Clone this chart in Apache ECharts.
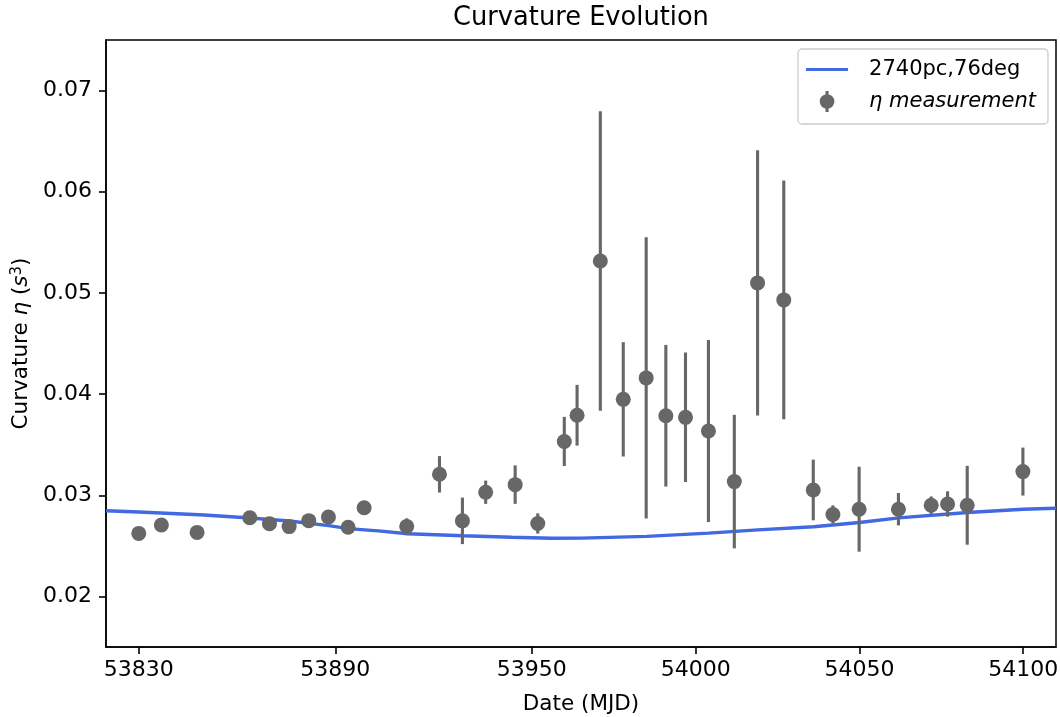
<!DOCTYPE html>
<html>
<head>
<meta charset="utf-8">
<script src="https://cdn.jsdelivr.net/npm/echarts@6/dist/echarts.min.js"></script>
<style>html,body{margin:0;padding:0;background:#fff}#c{width:1060px;height:717px}</style>
</head>
<body>
<div id="c"></div>
<script>
// Measurement epochs (MJD), curvature values and 1-sigma errors
const mjd = [53830, 53836.9, 53847.8, 53863.9, 53869.9, 53875.9, 53881.9, 53887.9, 53893.9, 53898.8,
  53911.8, 53921.8, 53928.8, 53935.9, 53944.9, 53951.8, 53959.9, 53963.8, 53970.9, 53977.9,
  53984.9, 53990.9, 53996.9, 54003.9, 54011.8, 54018.9, 54026.9, 54035.9, 54041.9, 54049.9,
  54061.9, 54071.9, 54076.9, 54082.9, 54099.9];
const eta = [0.02623, 0.02706, 0.02633, 0.02778, 0.02719, 0.02690, 0.02749, 0.02785, 0.02683, 0.02877,
  0.02692, 0.03207, 0.02747, 0.03030, 0.03105, 0.02721, 0.03532, 0.03791, 0.05315, 0.03948,
  0.04160, 0.03786, 0.03770, 0.03635, 0.03135, 0.05099, 0.04931, 0.03052, 0.02810, 0.02862,
  0.02862, 0.02901, 0.02914, 0.02901, 0.03234];
const etaErr = [0.0004, 0.0004, 0.0004, 0.0004, 0.0004, 0.0004, 0.0004, 0.0004, 0.0004, 0.0004,
  0.0008, 0.0018, 0.0023, 0.00115, 0.0019, 0.0010, 0.00243, 0.0030, 0.0148, 0.00565,
  0.0139, 0.0070, 0.0064, 0.0090, 0.0066, 0.0131, 0.0118, 0.0030, 0.0009, 0.0042,
  0.0016, 0.00087, 0.00125, 0.0039, 0.00237];
// Model curve (2740pc, 76deg)
const modelMjd = [53820, 53830, 53850, 53864, 53876, 53888, 53894, 53904, 53912, 53929, 53944,
  53956, 53965, 53985, 54004, 54019, 54036, 54050, 54062, 54083, 54100, 54110];
const modelEta = [0.02847, 0.02835, 0.02805, 0.02775, 0.02745, 0.02700, 0.02670, 0.02645, 0.02620, 0.02600, 0.02585,
  0.02575, 0.02576, 0.02593, 0.02626, 0.02658, 0.02688, 0.02731, 0.02776, 0.02830, 0.02862, 0.02872];
const xTicks = [53830, 53890, 53950, 54000, 54050, 54100];
const yTicks = [0.02, 0.03, 0.04, 0.05, 0.06, 0.07];

const FONT = 'DejaVu Sans';
const PT_COLOR = '#676767';
const LINE_COLOR = '#4169E1';
const TICK_FS = 22;
const LBL_FS = 21.5;
const LEG_FS = 21;

const chart = echarts.init(document.getElementById('c'), null, {renderer: 'canvas'});
const ptData = mjd.map((x, i) => [x, eta[i]]);
const errData = mjd.map((x, i) => [x, eta[i], etaErr[i]]);
const modelData = modelMjd.map((x, i) => [x, modelEta[i]]);

const option = {
  backgroundColor: '#fff',
  animation: false,
  title: {
    text: 'Curvature Evolution',
    left: 581, textAlign: 'center', top: 5, padding: 0,
    textStyle: {fontFamily: FONT, fontSize: 25.7, fontWeight: 'normal', color: '#000'}
  },
  legend: {
    orient: 'vertical', right: 12, top: 49,
    padding: [10, 12, 12, 8], itemGap: 11,
    itemWidth: 42, itemHeight: 21,
    borderColor: '#cccccc', borderWidth: 1.3, borderRadius: 4,
    backgroundColor: 'rgba(255,255,255,0.8)',
    data: [
      {name: '2740pc,76deg', icon: 'path://M0,0 L42,0 L42,3.2 L0,3.2 Z'},
      {name: 'η measurement', icon: 'path://M5.5,0 L8.5,0 L8.5,20 L5.5,20 Z M0,10 A7,7 0 1,1 14,10 A7,7 0 1,1 0,10 Z'}
    ],
    formatter: n => n === 'η measurement' ? '{it|' + n + '}' : n,
    textStyle: {fontFamily: FONT, fontSize: LEG_FS, color: '#000', padding: [0, 0, 0, 16],
      rich: {it: {fontFamily: FONT, fontSize: LEG_FS, fontStyle: 'italic', color: '#000'}}}
  },
  grid: {left: 106, right: 4, top: 40, bottom: 70, show: true, borderColor: '#000', borderWidth: 1.5,
    containLabel: false, outerBoundsMode: 'none'},
  xAxis: {
    type: 'value', min: 53820, max: 54110,
    name: 'Date (MJD)', nameLocation: 'middle', nameGap: 46,
    nameTextStyle: {fontFamily: FONT, fontSize: LBL_FS, color: '#000'},
    axisLine: {show: true, lineStyle: {color: '#000', width: 1.5}},
    axisTick: {show: true, length: 7, lineStyle: {color: '#000', width: 1.6}, customValues: xTicks},
    axisLabel: {fontFamily: FONT, fontSize: TICK_FS, color: '#000', margin: 12, customValues: xTicks,
      formatter: v => String(Math.round(v))},
    splitLine: {show: false}
  },
  yAxis: {
    type: 'value', min: 0.015, max: 0.075,
    name: 'Curvature {i|η} ({i|s}{sup|3})', nameLocation: 'middle', nameGap: 73, nameRotate: 90,
    nameTextStyle: {fontFamily: FONT, fontSize: LBL_FS, color: '#000',
      rich: {
        i: {fontFamily: FONT, fontSize: LBL_FS, fontStyle: 'italic', color: '#000'},
        sup: {fontFamily: FONT, fontSize: 15, color: '#000', verticalAlign: 'top', padding: [0, 0, 8, 0]}
      }},
    axisLine: {show: true, lineStyle: {color: '#000', width: 1.5}},
    axisTick: {show: true, length: 7, lineStyle: {color: '#000', width: 1.6}, customValues: yTicks},
    axisLabel: {fontFamily: FONT, fontSize: TICK_FS, color: '#000', margin: 14, customValues: yTicks,
      formatter: v => v.toFixed(2)},
    splitLine: {show: false}
  },
  series: [
    {
      name: '2740pc,76deg', type: 'line', data: modelData, showSymbol: false, symbol: 'none',
      lineStyle: {color: LINE_COLOR, width: 3.4}, itemStyle: {color: LINE_COLOR}, z: 2, clip: true
    },
    {
      name: 'errbars', type: 'custom', data: errData, z: 3, clip: true,
      encode: {x: 0, y: 1},
      renderItem: (params, api) => {
        const x = api.value(0), y = api.value(1), e = api.value(2);
        const p1 = api.coord([x, y + e]);
        const p2 = api.coord([x, y - e]);
        return {type: 'line', shape: {x1: p1[0], y1: p1[1], x2: p2[0], y2: p2[1]},
          style: {stroke: PT_COLOR, lineWidth: 3.1}};
      }
    },
    {
      name: 'η measurement', type: 'scatter', data: ptData, symbol: 'circle', symbolSize: 15,
      itemStyle: {color: PT_COLOR, opacity: 1}, z: 4
    }
  ]
};
chart.setOption(option);
</script>
</body>
</html>
